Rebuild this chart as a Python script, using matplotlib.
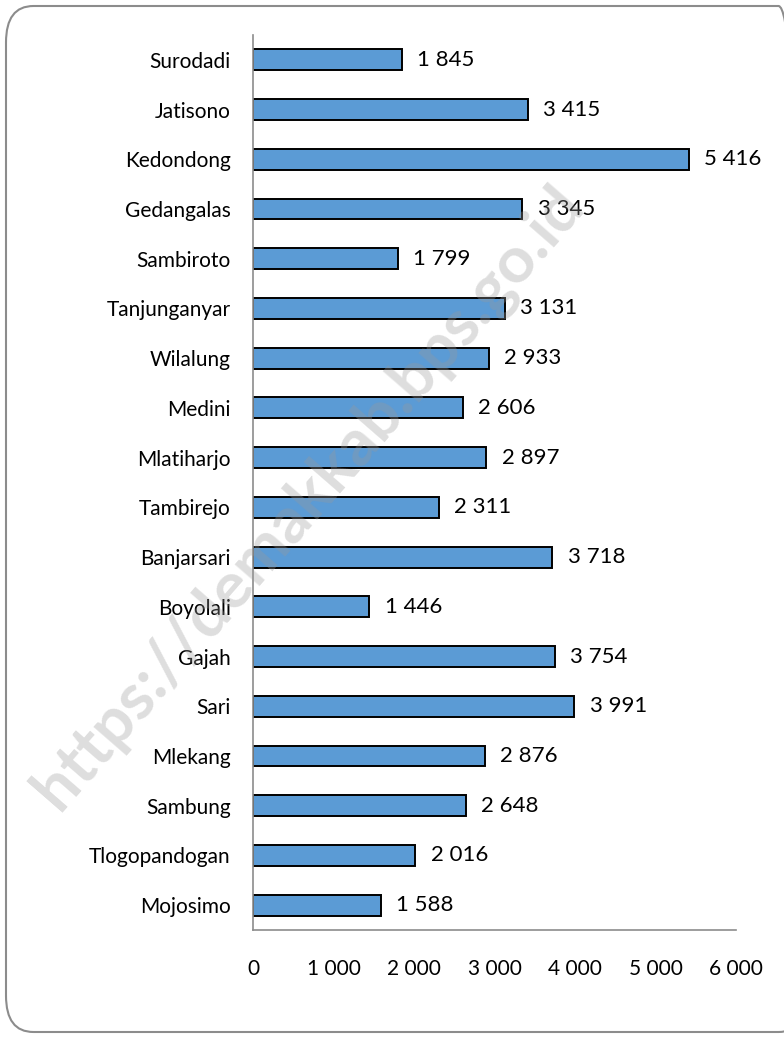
import matplotlib.pyplot as plt
from matplotlib.patches import FancyBboxPatch

villages = ["Surodadi", "Jatisono", "Kedondong", "Gedangalas", "Sambiroto",
            "Tanjunganyar", "Wilalung", "Medini", "Mlatiharjo", "Tambirejo",
            "Banjarsari", "Boyolali", "Gajah", "Sari", "Mlekang", "Sambung",
            "Tlogopandogan", "Mojosimo"]
values = [1845, 3415, 5416, 3345, 1799, 3131, 2933, 2606, 2897, 2311,
          3718, 1446, 3754, 3991, 2876, 2648, 2016, 1588]
xticks = [0, 1000, 2000, 3000, 4000, 5000, 6000]


def fmt(v):
    return f"{v:,}".replace(",", " ")


plt.rcParams["font.family"] = ["Lato", "DejaVu Sans"]

fig = plt.figure(figsize=(7.84, 10.38), dpi=100)

# rounded frame around the chart
frame = FancyBboxPatch((6 / 784, 6 / 1038), 800 / 784, 1026 / 1038,
                       boxstyle="round,pad=0,rounding_size=0.035",
                       transform=fig.transFigure, facecolor="none",
                       edgecolor="#8c8c8c", linewidth=1.5, zorder=0)
fig.patches.append(frame)

ax = fig.add_axes([253 / 784, 1 - 930 / 1038, 483 / 784, 895 / 1038])
ypos = list(range(len(villages)))
ax.barh(ypos, values, height=0.42, color="#5b9bd5", edgecolor="black",
        linewidth=1.4, zorder=2)
for y, v in zip(ypos, values):
    ax.text(v + 190, y, fmt(v), va="center", ha="left", fontsize=16)

ax.set_yticks(ypos)
ax.set_yticklabels(villages, fontsize=15)
ax.set_ylim(len(villages) - 0.5, -0.5)
ax.set_xlim(0, 6000)
ax.set_xticks(xticks)
ax.set_xticklabels([fmt(t) for t in xticks], fontsize=15)
ax.tick_params(axis="both", length=0)
ax.tick_params(axis="x", pad=21)
ax.tick_params(axis="y", pad=16)
for s in ["top", "right"]:
    ax.spines[s].set_visible(False)
for s in ["left", "bottom"]:
    ax.spines[s].set_color("#8c8c8c")
    ax.spines[s].set_linewidth(1.2)

# watermark
fig.text(0.395, 0.52, "https://demakkab.bps.go.id", rotation=49,
         rotation_mode="anchor", ha="center", va="center", fontsize=47,
         fontweight="bold", color="#9a9a9a", alpha=0.33, zorder=10)

fig.savefig("out.png", dpi=100)
